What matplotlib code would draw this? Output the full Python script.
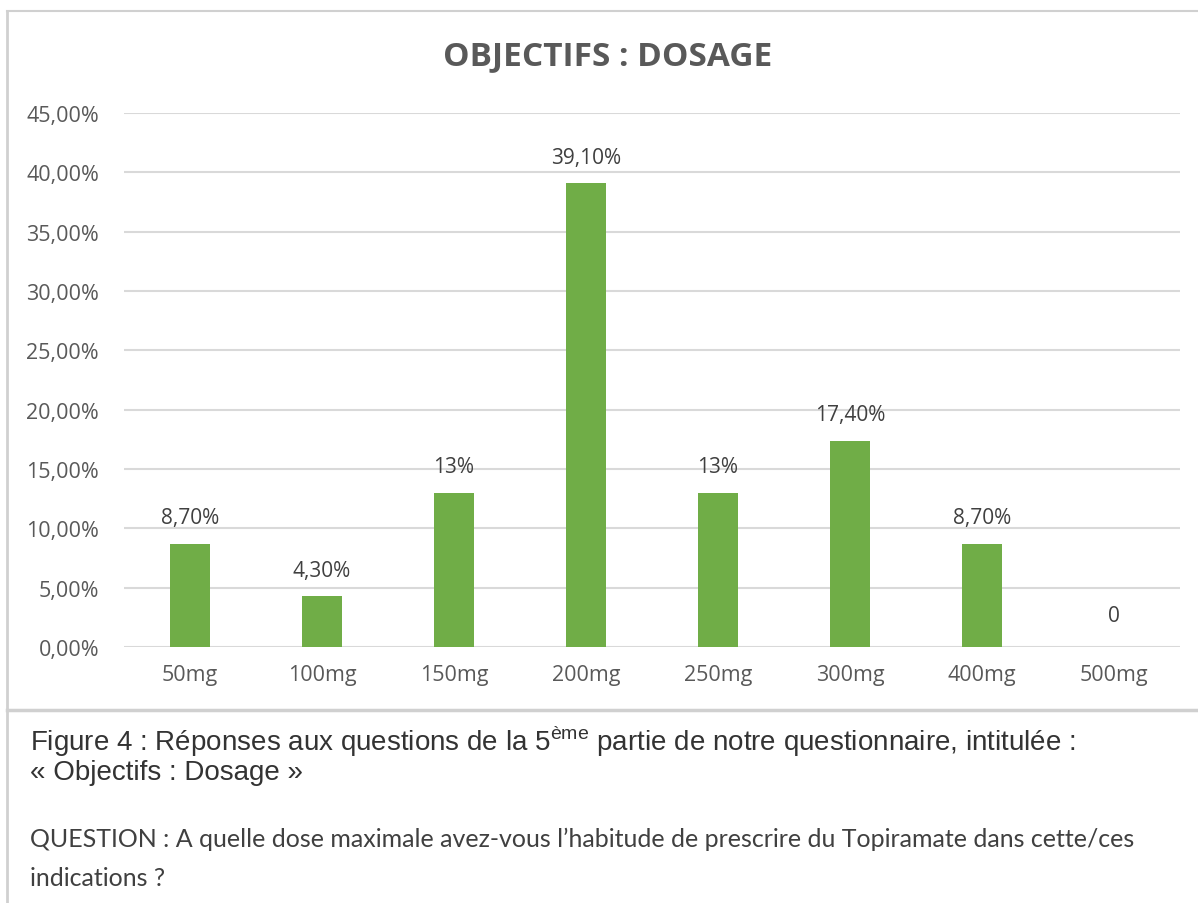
import matplotlib
matplotlib.use("Agg")
import matplotlib.pyplot as plt
from matplotlib.lines import Line2D

# ── Data ─────────────────────────────────────────────
doses = ["50mg", "100mg", "150mg", "200mg", "250mg", "300mg", "400mg", "500mg"]
values = [0.087, 0.043, 0.13, 0.391, 0.13, 0.174, 0.087, 0.0]
labels = ["8,70%", "4,30%", "13%", "39,10%", "13%", "17,40%", "8,70%", "0"]
yticks = [0.0, 0.05, 0.10, 0.15, 0.20, 0.25, 0.30, 0.35, 0.40, 0.45]

GREEN = "#70ad47"
GRID = "#d9d9d9"
TXT = "#595959"
LBL = "#404040"
BORDER = "#d0d0d0"
FONT = ["Open Sans", "DejaVu Sans"]

W, H = 1198, 904
fig = plt.figure(figsize=(W / 100, H / 100), dpi=100)
fig.patch.set_facecolor("white")

# plot area in pixel coords
x0, x1, ytop, ybot = 124, 1180, 114, 648
ax = fig.add_axes([x0 / W, 1 - ybot / H, (x1 - x0) / W, (ybot - ytop) / H])

xs = range(len(doses))
ax.bar(xs, values, width=0.31, color=GREEN, zorder=3)
ax.set_xlim(-0.5, len(doses) - 0.5)
ax.set_ylim(0, 0.45)
ax.set_yticks(yticks)
ax.set_yticklabels([f"{v*100:.2f}%".replace(".", ",") for v in yticks],
                   fontsize=15.5, color=TXT, family=FONT)
ax.set_xticks(list(xs))
ax.set_xticklabels(doses, fontsize=15.5, color=TXT, family=FONT)
ax.tick_params(axis="both", length=0)
ax.tick_params(axis="y", pad=18)
ax.tick_params(axis="x", pad=12)
ax.grid(axis="y", color=GRID, lw=1.5, zorder=0)
for s in ax.spines.values():
    s.set_visible(False)

for x, v, t in zip(xs, values, labels):
    ax.annotate(t, (x, v), xytext=(0, 11 if v > 0 else 15),
                textcoords="offset points", ha="center", va="bottom",
                fontsize=15, color=LBL, family=FONT)

fig.text(608 / W, 1 - 57 / H, "OBJECTIFS : DOSAGE", ha="center", va="center",
         fontsize=24, fontweight="bold", color=TXT, family=FONT)

# chart frame and divider
fig.add_artist(Line2D([7 / W, 7 / W], [0, 1 - 12 / H], color=BORDER, lw=2,
                      transform=fig.transFigure))
fig.add_artist(Line2D([7 / W, 1], [1 - 12 / H, 1 - 12 / H], color=BORDER, lw=1.5,
                      transform=fig.transFigure))
fig.add_artist(Line2D([7 / W, 1], [1 - 711 / H, 1 - 711 / H], color=BORDER, lw=2.5,
                      transform=fig.transFigure))

# caption
cap = ["Liberation Sans", "DejaVu Sans"]
fig.text(30 / W, 1 - 751 / H,
         r"Figure 4 : Réponses aux questions de la 5$^{\mathregular{ème}}$ partie de notre questionnaire, intitulée :",
         ha="left", va="baseline", fontsize=20, color="#333333", family=cap)
fig.text(30 / W, 1 - 780 / H, "« Objectifs : Dosage »",
         ha="left", va="baseline", fontsize=20, color="#333333", family=cap)

q = ["Lato", "DejaVu Sans"]
fig.text(30 / W, 1 - 847 / H,
         "QUESTION : A quelle dose maximale avez-vous l’habitude de prescrire du Topiramate dans cette/ces",
         ha="left", va="baseline", fontsize=18, color="#404040", family=q)
fig.text(30 / W, 1 - 886 / H, "indications ?",
         ha="left", va="baseline", fontsize=18, color="#404040", family=q)

fig.savefig("out.png", dpi=100, facecolor="white")
